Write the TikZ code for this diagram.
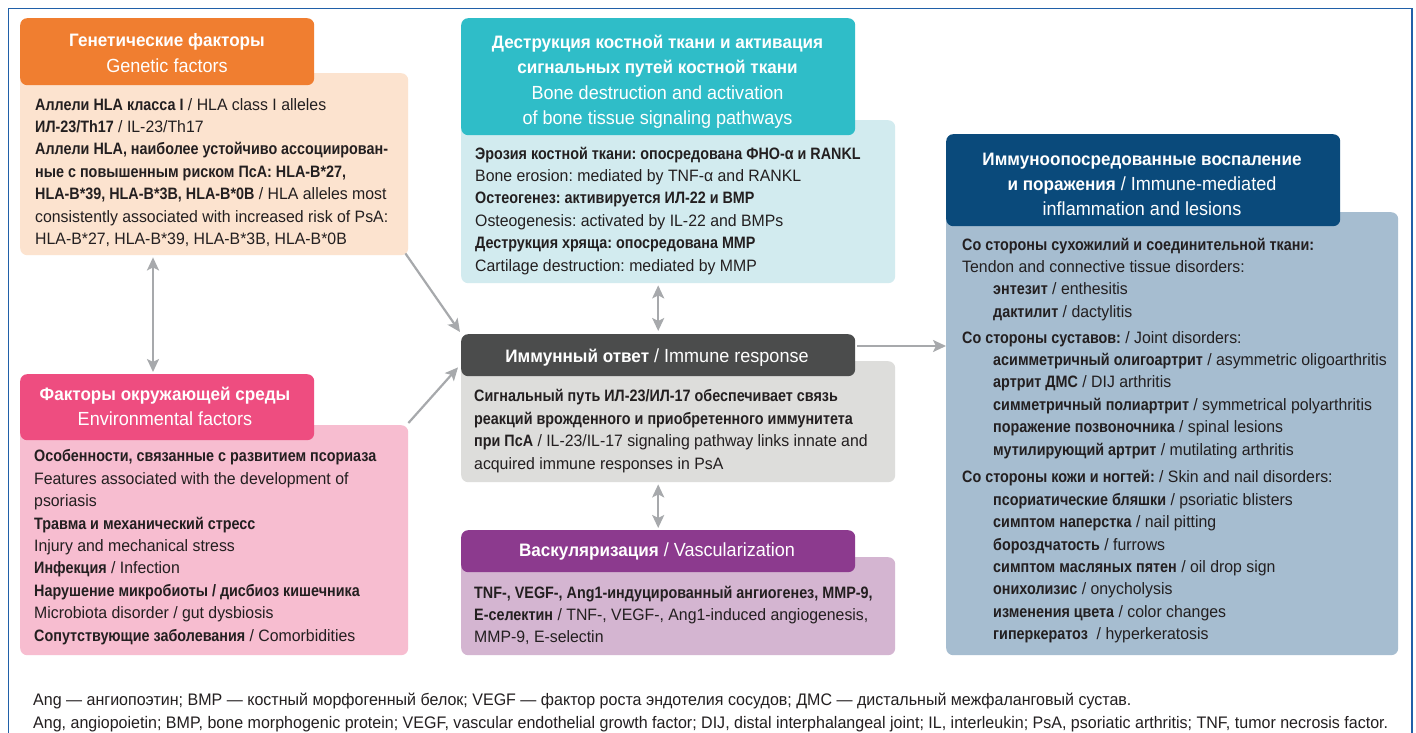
\documentclass[tikz,border=0pt]{standalone}
\usepackage{fontspec}
\setmainfont{Liberation Sans}[FakeStretch=0.96, BoldFeatures={FakeStretch=0.87}]
\newfontfamily\hfont{Liberation Sans}[FakeStretch=0.95]
\usetikzlibrary{arrows.meta}
\definecolor{frameblue}{HTML}{2060A8}
\definecolor{ink}{HTML}{231F20}
\definecolor{orgH}{HTML}{F07E30}
\definecolor{orgB}{HTML}{FCE3CF}
\definecolor{tealH}{HTML}{2FBDC8}
\definecolor{tealB}{HTML}{D2EBEF}
\definecolor{navyH}{HTML}{0A4A7B}
\definecolor{navyB}{HTML}{A6BDD0}
\definecolor{pinkH}{HTML}{EE4D80}
\definecolor{pinkB}{HTML}{F7BDD0}
\definecolor{greyH}{HTML}{4B4C4C}
\definecolor{greyB}{HTML}{DDDDDB}
\definecolor{purpH}{HTML}{8C3A8E}
\definecolor{purpB}{HTML}{D4B5D1}
\definecolor{arrgrey}{HTML}{A7A9AC}
\newcommand\ind{\hspace*{31pt}}
\newcommand\hb[1]{{\fontsize{18}{25.5}\selectfont\bfseries #1}}
\begin{document}
\frenchspacing
\begin{tikzpicture}[x=1pt,y=-1pt,
  box/.style={rounded corners=7pt, inner sep=0pt, anchor=north west},
  txt/.style={anchor=north west, inner sep=0pt, align=left, text=ink, font=\fontsize{16.5}{22.4}\selectfont},
  htxt/.style={anchor=north, inner sep=0pt, align=center, text=white},
  tip/.tip={Stealth[length=13pt,width=12pt,inset=3pt]},
  arr/.style={draw=arrgrey, line width=2.2pt, -tip},
  darr/.style={draw=arrgrey, line width=2.2pt, tip-tip}]
\useasboundingbox (0,0) rectangle (1416,733);
\fill[white] (0,0) rectangle (1416,733);
\draw[frameblue, line width=1.8pt] (8.5,760) -- (8.5,8.5) -- (1412,8.5) -- (1412,760);

% Genetic factors
\node[box, fill=orgB, minimum width=388pt, minimum height=182pt] (genB) at (20,73) {};
\node[box, fill=orgH, minimum width=294pt, minimum height=67pt] (genH) at (20,18) {};
\node[htxt, font=\hfont\fontsize{19}{26}\selectfont] (genT) at (167,28.5)
  {\strut\hb{Генетические факторы}\\Genetic factors};
\node[txt] (genX) at (35,94.3) {\strut\textbf{Аллели HLA класса I} / HLA class I alleles\\
\textbf{ИЛ-23/Th17} / IL-23/Th17\\
\textbf{Аллели HLA, наиболее устойчиво ассоциирован-}\\
\textbf{ные с повышенным риском ПсА: HLA-B*27,}\\
\textbf{HLA-B*39, HLA-B*3B, HLA-B*0B} / HLA alleles most\\
consistently associated with increased risk of PsA:\\
HLA-B*27, HLA-B*39, HLA-B*3B, HLA-B*0B};

% Environmental factors
\node[box, fill=pinkB, minimum width=388pt, minimum height=230pt] (envB) at (20,425) {};
\node[box, fill=pinkH, minimum width=294pt, minimum height=66pt] (envH) at (20,374) {};
\node[htxt, font=\hfont\fontsize{19}{24.3}\selectfont] (envT) at (165,383.7)
  {\strut\hb{Факторы окружающей среды}\\Environmental factors};
\node[txt] (envX) at (34,446) {\strut\textbf{Особенности, связанные с развитием псориаза}\\
Features associated with the development of\\
psoriasis\\
\textbf{Травма и механический стресс}\\
Injury and mechanical stress\\
\textbf{Инфекция} / Infection\\
\textbf{Нарушение микробиоты / дисбиоз кишечника}\\
Microbiota disorder / gut dysbiosis\\
\textbf{Сопутствующие заболевания} / Comorbidities};

% Bone destruction
\node[box, fill=tealB, minimum width=434pt, minimum height=163pt] (boneB) at (461,120) {};
\node[box, fill=tealH, minimum width=394pt, minimum height=117pt] (boneH) at (461,18) {};
\node[htxt, font=\hfont\fontsize{19}{25.5}\selectfont] (boneT) at (657.5,30.2)
  {\strut\hb{Деструкция костной ткани и активация}\\
   \hb{сигнальных путей костной ткани}\\
   Bone destruction and activation\\
   of bone tissue signaling pathways};
\node[txt] (boneX) at (475,143.3) {\strut\textbf{Эрозия костной ткани: опосредована ФНО-α и RANKL}\\
Bone erosion: mediated by TNF-α and RANKL\\
\textbf{Остеогенез: активируется ИЛ-22 и BMP}\\
Osteogenesis: activated by IL-22 and BMPs\\
\textbf{Деструкция хряща: опосредована MMP}\\
Cartilage destruction: mediated by MMP};

% Immune response
\node[box, fill=greyB, minimum width=434pt, minimum height=121pt] (immB) at (461,361) {};
\node[box, fill=greyH, minimum width=394pt, minimum height=42pt] (immH) at (461,334) {};
\node[htxt, anchor=base, font=\hfont\fontsize{19}{24}\selectfont] (immT) at (657,362.7)
  {\hb{Иммунный ответ} / Immune response};
\node[txt] (immX) at (474,386) {\strut\textbf{Сигнальный путь ИЛ-23/ИЛ-17 обеспечивает связь}\\
\textbf{реакций врожденного и приобретенного иммунитета}\\
\textbf{при ПсА} / IL-23/IL-17 signaling pathway links innate and\\
acquired immune responses in PsA};

% Vascularization
\node[box, fill=purpB, minimum width=434pt, minimum height=98pt] (vasB) at (461,557) {};
\node[box, fill=purpH, minimum width=394pt, minimum height=42pt] (vasH) at (461,530) {};
\node[htxt, anchor=base, font=\hfont\fontsize{19}{24}\selectfont] (vasT) at (657,556.7)
  {\hb{Васкуляризация} / Vascularization};
\node[txt] (vasX) at (474,582.3) {\strut\textbf{TNF-, VEGF-, Ang1-индуцированный ангиогенез, MMP-9,}\\
\textbf{E-селектин} / TNF-, VEGF-, Ang1-induced angiogenesis,\\
MMP-9, E-selectin};

% Immune-mediated inflammation
\node[box, fill=navyB, minimum width=452pt, minimum height=443pt] (infB) at (946,212) {};
\node[box, fill=navyH, minimum width=394pt, minimum height=92pt] (infH) at (946,134) {};
\node[htxt, font=\hfont\fontsize{19}{25}\selectfont] (infT) at (1142,147.5)
  {\strut\hb{Иммуноопосредованные воспаление}\\
   \hb{и поражения} / Immune-mediated\\
   inflammation and lesions};
\node[txt] (infX) at (962,234.3) {\strut\textbf{Со стороны сухожилий и соединительной ткани:}\\
Tendon and connective tissue disorders:\\
\ind\textbf{энтезит} / enthesitis\\
\ind\textbf{дактилит} / dactylitis\\[3.4pt]
\textbf{Со стороны суставов:} / Joint disorders:\\
\ind\textbf{асимметричный олигоартрит} / asymmetric oligoarthritis\\
\ind\textbf{артрит ДМС} / DIJ arthritis\\
\ind\textbf{симметричный полиартрит} / symmetrical polyarthritis\\
\ind\textbf{поражение позвоночника} / spinal lesions\\
\ind\textbf{мутилирующий артрит} / mutilating arthritis\\[5.4pt]
\textbf{Со стороны кожи и ногтей:} / Skin and nail disorders:\\
\ind\textbf{псориатические бляшки} / psoriatic blisters\\
\ind\textbf{симптом наперстка} / nail pitting\\
\ind\textbf{бороздчатость} / furrows\\
\ind\textbf{симптом масляных пятен} / oil drop sign\\
\ind\textbf{онихолизис} / onycholysis\\
\ind\textbf{изменения цвета} / color changes\\
\ind\textbf{гиперкератоз}\ \ / hyperkeratosis};

% Footnote
\node[txt, font=\fontsize{16.7}{23}\selectfont] (foot) at (33,688.9) {\strut Ang — ангиопоэтин; BMP — костный морфогенный белок; VEGF — фактор роста эндотелия сосудов; ДМС — дистальный межфаланговый сустав.\\
Ang, angiopoietin; BMP, bone morphogenic protein; VEGF, vascular endothelial growth factor; DIJ, distal interphalangeal joint; IL, interleukin; PsA, psoriatic arthritis; TNF, tumor necrosis factor.};

% Connectors
\draw[darr] ([shift={(133,2)}]genB.south west) -- ([shift={(133,-2)}]envH.north west);
\draw[arr] ([shift={(-3,-2)}]genB.south east) -- ([shift={(-1,-2)}]immH.north west);
\draw[arr] ([shift={(0,-2)}]envB.north east) -- ([shift={(-3,-9)}]immH.south west);
\draw[darr] ([shift={(0,2)}]boneB.south -| immH.north) -- ([shift={(0,-3)}]immH.north);
\draw[darr] ([shift={(0,2)}]immB.south -| vasH.north) -- ([shift={(0,-2)}]vasH.north);
\coordinate (hs) at (857,346);
\draw[arr] (hs) -- (hs -| infB.west);
\end{tikzpicture}
\end{document}
